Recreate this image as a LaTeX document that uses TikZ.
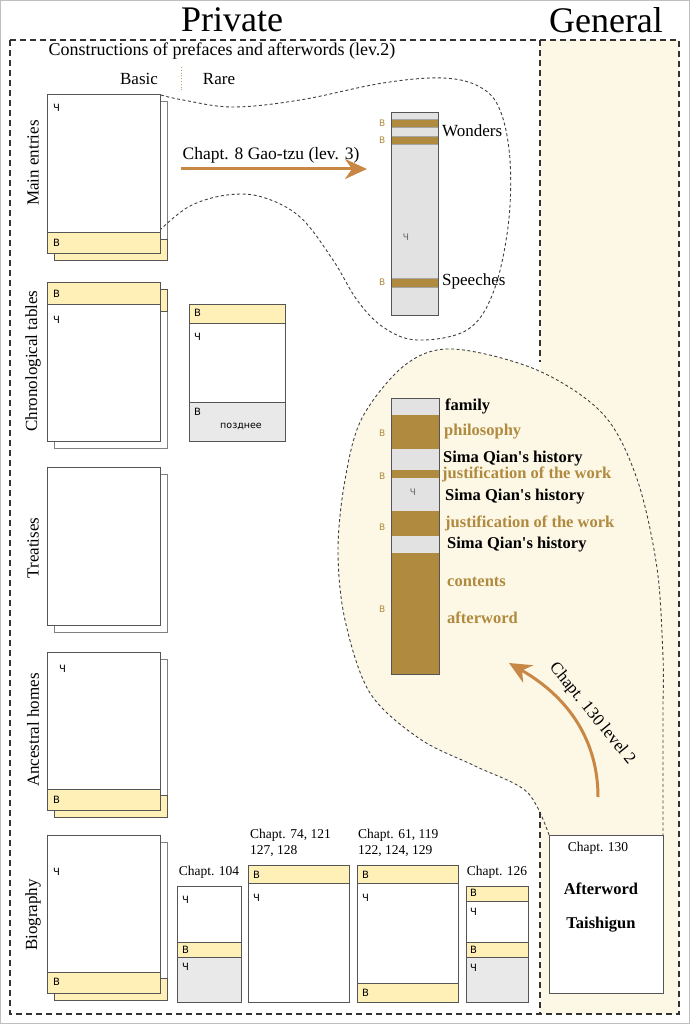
\documentclass[tikz,border=0pt]{standalone}
\usepackage{fontspec}
\setmainfont{Liberation Serif}[Ligatures=TeXOff]
\newfontfamily\cyrsans{DejaVu Sans}
\usetikzlibrary{arrows.meta}
\definecolor{yel}{HTML}{FFF0B8}
\definecolor{cream}{HTML}{FDF7E6}
\definecolor{brn}{HTML}{B08A3E}
\definecolor{arr}{HTML}{C88745}
\definecolor{barg}{HTML}{E2E2E2}
\definecolor{boxg}{HTML}{EAE9E9}
\definecolor{edge}{HTML}{555555}
\newcommand\myfs[1]{\fontsize{#1}{#1}\selectfont}
\tikzset{
 txt/.style={inner sep=0pt, font=\myfs{17}},
 small/.style={inner sep=0pt, font=\myfs{13.5}},
 twol/.style={inner sep=0pt, anchor=north west, align=left, font=\fontsize{13.5}{16}\selectfont},
 bt/.style={inner sep=0pt, anchor=west, font=\bfseries\myfs{16.5}},
 cyr/.style={inner sep=0pt, font=\cyrsans\myfs{10}, anchor=west},
 bcyr/.style={inner sep=0pt, font=\cyrsans\myfs{9}, anchor=west, text=brn},
 page/.style={draw=edge, line width=0.8pt, fill=white},
 backpage/.style={draw=gray, line width=0.8pt, fill=white},
 strip/.style={draw=edge, line width=0.8pt, fill=yel},
 bstrip/.style={draw=gray!70, line width=0.6pt, fill=brn},
 frame/.style={draw=black!80, line width=1.3pt, dash pattern=on 6pt off 4pt},
 blob/.style={draw=black!75, line width=0.9pt, dash pattern=on 3pt off 2.5pt},
 fat/.style={draw=arr, line width=3pt, -{Stealth[length=22pt,width=20pt,inset=7pt]}},
}
\begin{document}
\begin{tikzpicture}[x=1pt,y=-1pt]
\useasboundingbox (0,0) rectangle (690,1024);
\fill[white] (0,0) rectangle (690,1024);
\draw[gray!50, line width=1pt] (0.5,0.5) rectangle (689.5,1023.5);
% general column and blob
\fill[cream] (540,40) rectangle (679,1014);
\fill[cream] plot[smooth, tension=0.55] coordinates {(549,835) (527,792) (475,766) (420,739) (370,693) (345,620) (338,550) (345,480) (362,418) (405,365) (453,349) (537,370) (603,414) (637,479) (657,568) (663,657) (663,700)} -- (663,835) -- cycle;
\draw[blob] plot[smooth, tension=0.55] coordinates {(549,835) (527,792) (475,766) (420,739) (370,693) (345,620) (338,550) (345,480) (362,418) (405,365) (453,349) (537,370) (603,414) (637,479) (657,568) (663,657) (663,700)} -- (663,835);
% frame
\draw[frame] (10,40) rectangle (679,1014);
\draw[frame] (540,40) -- (540,362);
\draw[frame] (540,812) -- (540,1014);
% titles
\node[txt, font=\myfs{36}] (private) at (232,20) {Private};
\node[txt, font=\myfs{36}] (general) at (606,20) {General};
\node[txt, font=\myfs{18}] (constr) at (222,51) {Constructions of prefaces and afterwords (lev.2)};
\node[txt] (basic) at (139,79) {Basic};
\node[txt] (rare) at (219,79) {Rare};
\draw[brn!80, dotted, line width=0.8pt] (181,67) -- (181,92);
% row labels
\node[txt, rotate=90] (lmain) at (33,163) {Main entries};
\node[txt, rotate=90] (lchr) at (33,361) {Chronological tables};
\node[txt, rotate=90] (ltre) at (33,548) {Treatises};
\node[txt, rotate=90] (lanc) at (33,730) {Ancestral homes};
\node[txt, rotate=90] (lbio) at (33,915) {Biography};
% main entries
\node[backpage, minimum width=113pt, minimum height=159pt, anchor=north west] (meb) at (54,101) {};
\draw[strip] (54,239) rectangle (167,260);
\node[page, minimum width=113pt, minimum height=159pt, anchor=north west] (me) at (47,94) {};
\draw[strip] (47,232) rectangle (160,253);
\node[cyr] at (53,108) {Ч};
\node[cyr] at (53,243) {В};
% chronological
\node[backpage, minimum width=113pt, minimum height=159pt, anchor=north west] (chb) at (54,289) {};
\draw[strip] (54,289) rectangle (167,311);
\node[page, minimum width=113pt, minimum height=159pt, anchor=north west] (ch) at (47,282) {};
\draw[strip] (47,282) rectangle (160,304);
\node[cyr] at (53,294) {В};
\node[cyr] at (53,320) {Ч};
% rare chronological
\node[page, minimum width=96pt, minimum height=137pt, anchor=north west] (chr) at (189,304) {};
\draw[strip] (189,304) rectangle (285,323);
\draw[draw=edge, line width=0.8pt, fill=boxg] (189,402) rectangle (285,441);
\node[cyr] at (194,313) {В};
\node[cyr] at (194,337) {Ч};
\node[cyr] at (194,412) {В};
\node[inner sep=0pt, font=\cyrsans\myfs{9.5}] at (241,426) {позднее};
% treatises
\node[backpage, minimum width=113pt, minimum height=158pt, anchor=north west] (trb) at (54,474) {};
\node[page, minimum width=113pt, minimum height=158pt, anchor=north west] (tr) at (47,467) {};
% ancestral
\node[backpage, minimum width=113pt, minimum height=158pt, anchor=north west] (anb) at (54,659) {};
\draw[strip] (54,795) rectangle (167,817);
\node[page, minimum width=113pt, minimum height=158pt, anchor=north west] (an) at (47,652) {};
\draw[strip] (47,789) rectangle (160,810);
\node[cyr] at (59,669) {Ч};
\node[cyr] at (53,800) {В};
% biography
\node[backpage, minimum width=113pt, minimum height=158pt, anchor=north west] (bib) at (54,842) {};
\draw[strip] (54,978) rectangle (167,1000);
\node[page, minimum width=113pt, minimum height=158pt, anchor=north west] (bi) at (47,835) {};
\draw[strip] (47,972) rectangle (160,993);
\node[cyr] at (53,872) {Ч};
\node[cyr] at (53,982) {В};
% chapt 104
\node[small] (l104) at (209,872) {Chapt. 104};
\node[page, minimum width=64pt, minimum height=116pt, anchor=north west] (c104) at (177,886) {};
\draw[strip] (177,942) rectangle (241,957);
\draw[draw=edge, line width=0.8pt, fill=boxg] (177,957) rectangle (241,1002);
\node[cyr] at (182,900) {Ч};
\node[cyr] at (182,950) {В};
\node[cyr] at (182,967) {Ч};
% chapt 74
\node[twol] (l74) at (250,829) {Chapt. 74, 121\\127, 128};
\node[page, minimum width=101pt, minimum height=137pt, anchor=north west] (c74) at (248,865) {};
\draw[strip] (248,865) rectangle (349,883);
\node[cyr] at (253,875) {В};
\node[cyr] at (253,898) {Ч};
% chapt 61
\node[twol] (l61) at (358,829) {Chapt. 61, 119\\122, 124, 129};
\node[page, minimum width=101pt, minimum height=137pt, anchor=north west] (c61) at (357,865) {};
\draw[strip] (357,865) rectangle (458,883);
\draw[strip] (357,983) rectangle (458,1002);
\node[cyr] at (362,875) {В};
\node[cyr] at (362,898) {Ч};
\node[cyr] at (362,993) {В};
% chapt 126
\node[small] (l126) at (497,872) {Chapt. 126};
\node[page, minimum width=62pt, minimum height=116pt, anchor=north west] (c126) at (466,886) {};
\draw[strip] (466,886) rectangle (528,901);
\draw[strip] (466,942) rectangle (528,957);
\draw[draw=edge, line width=0.8pt, fill=boxg] (466,957) rectangle (528,1002);
\node[cyr] at (470,893) {В};
\node[cyr] at (470,912) {Ч};
\node[cyr] at (470,950) {В};
\node[cyr] at (470,968) {Ч};
% chapt 130 box
\node[page, minimum width=114pt, minimum height=158pt, anchor=north west] (c130) at (549,835) {};
\node[small] (l130) at (598,848) {Chapt. 130};
\node[inner sep=0pt, font=\bfseries\myfs{16.5}] (aft) at (601,889) {Afterword};
\node[inner sep=0pt, font=\bfseries\myfs{16.5}] (tai) at (601,925) {Taishigun};
% upper blob
\draw[blob] plot[smooth, tension=0.6] coordinates {(161,95) (183,100) (233,107) (300,100) (383,83) (443,78) (480,87) (500,110) (510,160) (508,227) (493,293) (467,330) (417,340) (383,327) (357,300) (333,260) (300,217) (262,197) (227,195) (190,206) (161,229)};
% main bar
\node[draw=edge, line width=0.8pt, fill=barg, minimum width=47pt, minimum height=203pt, anchor=north west, inner sep=0pt] (bar1) at (391,112) {};
\draw[bstrip] (391,119) rectangle (438,127);
\draw[bstrip] (391,136) rectangle (438,144);
\draw[bstrip] (391,278) rectangle (438,287);
\draw[draw=edge, line width=0.8pt] (bar1.north west) rectangle (bar1.south east);
\node[bcyr] at (379,123) {В};
\node[bcyr] at (379,140) {В};
\node[bcyr] at (379,282) {В};
\node[inner sep=0pt, font=\cyrsans\myfs{9}, text=black!60] at (406,237) {Ч};
\node[txt, anchor=west] (won) at (442,131) {Wonders};
\node[txt, anchor=west] (spe) at (442,281) {Speeches};
% arrow chapt 8
\coordinate (a8s) at (181,169);
\coordinate (a8e) at (367,169);
\draw[fat] (a8s) -- (a8e);
\node[txt, font=\myfs{17.5}] (l8) at (271,155) {Chapt. 8 Gao-tzu (lev. 3)};
% lower bar
\node[draw=edge, line width=0.8pt, fill=barg, minimum width=48pt, minimum height=276pt, anchor=north west, inner sep=0pt] (bar2) at (391,398) {};
\fill[brn] (391,415) rectangle (439,449);
\fill[brn] (391,470) rectangle (439,478);
\fill[brn] (391,511) rectangle (439,536);
\fill[brn] (391,553) rectangle (439,674);
\draw[draw=edge, line width=0.8pt] (bar2.north west) rectangle (bar2.south east);
\node[bcyr] at (379,433) {В};
\node[bcyr] at (379,476) {В};
\node[bcyr] at (379,527) {В};
\node[bcyr] at (379,609) {В};
\node[inner sep=0pt, font=\cyrsans\myfs{9}, text=black!60] at (413,492) {Ч};
\node[bt] (t1) at (445,406) {family};
\node[bt, text=brn] (t2) at (444,432) {philosophy};
\node[bt] (t3) at (443,459) {Sima Qian's history};
\node[bt, text=brn] (t4) at (442,474) {justification of the work};
\node[bt] (t5) at (445,497) {Sima Qian's history};
\node[bt, text=brn] (t6) at (445,523) {justification of the work};
\node[bt] (t7) at (447,545) {Sima Qian's history};
\node[bt, text=brn] (t8) at (447,582) {contents};
\node[bt, text=brn] (t9) at (447,618) {afterword};
% arrow chapt 130
\coordinate (a130s) at (598,797);
\coordinate (a130e) at (509,663);
\draw[fat] (a130s) .. controls (598,742) and (570,698) .. (a130e);
\node[txt, rotate=-51] (l130b) at (592,714) {Chapt. 130 level 2};
\end{tikzpicture}
\end{document}
